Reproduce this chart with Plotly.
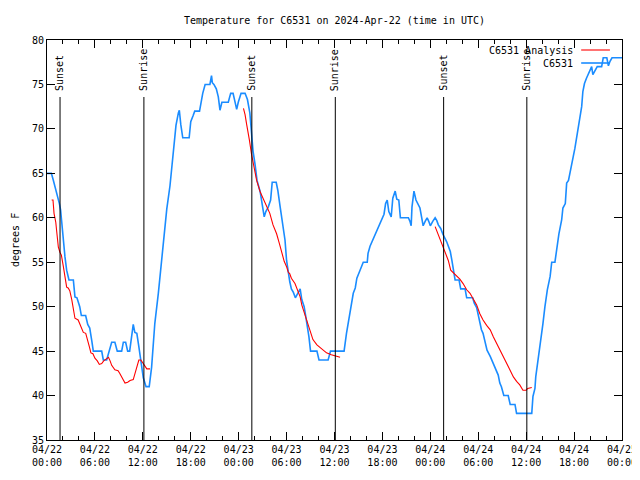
import pandas as pd
import plotly.graph_objects as go

# ---------------- data (hours since 2024-04-22 00:00 UTC, degrees F) ----------------
BASE = pd.Timestamp("2024-04-22 00:00")

obs_hours = [
    0.0, 0.55, 0.8, 1.2, 1.55, 1.7, 1.84, 2.05, 2.25, 2.46, 2.75, 3.3, 3.5, 3.75, 4.1, 4.3, 4.84,
    5.1, 5.35, 5.6, 5.8, 6.85, 7.05, 7.47, 7.8, 8.1, 8.5, 8.8, 9.35, 9.56, 9.85, 10.1, 10.35,
    10.6, 10.8, 11.0, 11.25, 11.5, 11.77, 12.06, 12.4, 12.8, 13.1, 13.5, 13.94, 14.36, 14.8,
    15.0, 15.4, 15.8, 16.15, 16.45, 16.57, 16.75, 17.0, 17.8, 18.0, 18.3, 18.5, 19.1, 19.25,
    19.5, 19.8, 20.4, 20.6, 20.7, 20.9, 21.2, 21.45, 21.66, 21.9, 22.7, 23.0, 23.3, 23.5,
    23.75, 23.95, 24.1, 24.3, 24.8, 25.1, 25.4, 25.6, 25.8, 26.05, 26.3, 26.7, 26.9, 27.2,
    27.4, 27.7, 28.0, 28.2, 28.7, 28.9, 29.2, 29.4, 29.6, 29.8, 30.0, 30.2, 30.4, 30.6, 30.85,
    31.1, 31.4, 31.7, 31.9, 32.2, 32.4, 32.6, 32.8, 33.0, 33.8, 34.06, 35.2, 35.5, 37.2, 37.5,
    37.9, 38.35, 38.6, 38.8, 39.2, 39.6, 40.1, 40.2, 40.45, 40.9, 41.2, 41.5, 42.0, 42.2, 42.4,
    42.6, 42.8, 43.1, 43.3, 43.5, 43.6, 43.8, 44.05, 44.25, 45.25, 45.45, 45.6, 45.7, 45.95,
    46.2, 46.45, 46.7, 46.9, 47.1, 47.35, 47.6, 47.8, 48.0, 48.3, 48.6, 48.8, 49.0, 49.3, 49.55,
    50.05, 50.25, 50.5, 50.7, 50.9, 51.1, 51.6, 51.8, 52.35, 52.55, 53.3, 53.5, 53.8, 54.1,
    54.4, 54.6, 54.85, 55.1, 55.5, 55.9, 56.2, 56.5, 56.7, 56.9, 57.2, 57.75, 58.0, 58.6, 58.8,
    60.7, 60.85, 61.1, 61.2, 61.5, 61.8, 62.1, 62.35, 62.65, 63.0, 63.2, 63.6, 63.8, 64.1,
    64.45, 64.6, 64.9, 65.07, 65.3, 65.5, 65.7, 65.9, 66.1, 66.3, 66.5, 66.7, 66.95, 67.1,
    67.3, 67.55, 67.8, 68.0, 68.2, 68.35, 68.6, 68.9, 69.45, 69.65, 70.1, 70.3, 70.5, 70.75, 72.0,
]
obs_temp = [
    65.0, 65.0, 64.2, 62.9, 61.6, 60.9, 59.4, 57.5, 55.6, 54.1, 53.0, 53.0, 51.1, 51.0, 50.0, 49.0, 49.0,
    48.0, 47.6, 46.2, 45.0, 45.0, 44.0, 44.0, 45.0, 46.0, 46.0, 45.0, 45.0, 46.0, 46.0, 45.0, 45.0,
    47.0, 48.0, 47.1, 47.0, 45.5, 44.0, 42.0, 41.0, 41.0, 43.2, 48.1, 51.5, 55.2, 58.6,
    61.0, 63.6, 67.2, 70.4, 71.8, 72.1, 70.5, 69.0, 69.0, 70.8, 71.5, 72.0, 72.0, 72.9,
    74.0, 75.0, 75.0, 76.0, 75.2, 75.0, 74.5, 73.6, 72.1, 73.0, 73.0, 74.0, 74.0, 73.2,
    72.2, 73.0, 73.5, 74.0, 74.0, 73.3, 71.8, 69.6, 67.5, 66.0, 64.2, 62.9, 61.6, 60.1,
    60.7, 61.2, 62.0, 64.0, 64.0, 63.1, 61.2, 60.1, 58.6, 57.5, 55.2, 53.8, 52.8, 52.0, 51.6,
    51.0, 51.5, 52.0, 50.8, 50.0, 48.9, 47.8, 46.6, 45.0, 45.0, 44.0, 44.0, 45.0, 45.0, 47.0,
    49.2, 51.5, 52.1, 53.2, 54.1, 55.0, 55.0, 56.0, 56.8, 57.7, 58.2, 58.8, 59.8, 60.4, 61.6,
    62.0, 60.7, 60.1, 62.2, 62.8, 63.0, 62.1, 62.0, 60.0, 60.0, 59.6, 59.1, 61.2, 63.0,
    62.0, 61.6, 61.1, 60.1, 59.1, 59.6, 60.0, 59.6, 59.1, 59.6, 60.0, 59.7, 59.2, 58.8, 58.2,
    57.3, 56.9, 56.2, 55.2, 54.1, 53.0, 53.0, 52.0, 52.0, 51.0, 51.0, 50.4, 49.9, 48.5,
    47.4, 47.0, 46.2, 45.1, 44.4, 43.6, 43.1, 42.3, 41.4, 41.0, 40.0, 40.0, 39.0, 39.0, 38.0,
    38.0, 39.9, 40.8, 42.1, 44.0, 46.2, 48.1, 50.0, 51.9, 53.4, 55.0, 55.0, 56.4, 58.2,
    59.8, 61.1, 61.6, 63.9, 64.2, 65.0, 66.1, 66.9, 67.8, 68.8, 69.9, 71.0, 72.5, 74.2,
    75.1, 75.7, 76.2, 76.8, 77.0, 76.1, 76.6, 77.0, 77.0, 78.0, 78.0, 77.1, 77.6, 78.0, 78.0,
]

# analysis: three night-time segments
ana1_hours = [0.58, 0.75, 0.88, 1.1, 1.2, 1.42, 1.63, 1.8, 2.05, 2.25, 2.46, 2.65, 2.85, 3.1, 3.3,
              3.5, 3.9, 4.1, 4.34, 4.55, 4.85, 5.05, 5.3, 5.5, 5.75, 6.0, 6.3, 6.55, 6.85, 7.1,
              7.5, 7.7, 7.9, 8.1, 8.5, 8.9, 9.1, 9.5, 9.77, 10.1, 10.4, 10.8, 11.0, 11.3, 11.5,
              11.75, 12.0, 12.3, 12.5, 12.9]
ana1_temp = [62.0, 62.0, 60.5, 59.5, 58.6, 56.7, 56.1, 55.8, 54.5, 53.4, 52.2, 52.1, 51.8, 50.8, 49.6,
             48.7, 48.5, 48.1, 47.6, 47.1, 47.0, 46.2, 45.5, 44.8, 44.7, 44.2, 43.9, 43.5, 43.6, 43.9,
             44.2, 44.3, 43.9, 43.4, 42.9, 42.8, 42.5, 41.9, 41.4, 41.5, 41.7, 41.8, 42.5, 43.6, 44.0,
             44.0, 43.7, 43.3, 43.0, 43.0]
ana2_hours = [24.6, 24.8, 25.0, 25.2, 25.35, 25.6, 25.9, 26.25, 26.7, 27.1, 27.5, 27.9, 28.3, 28.75,
              29.1, 29.4, 29.7, 30.0, 30.2, 30.4, 30.6, 31.05, 31.35, 31.7, 31.9, 32.2, 32.5, 32.9,
              33.3, 33.8, 34.4, 35.0, 35.6, 36.3, 36.7]
ana2_temp = [72.3, 71.6, 70.5, 69.6, 68.7, 67.2, 65.8, 64.2, 62.9, 62.1, 61.4, 60.5, 59.2, 58.2,
             57.1, 56.0, 55.1, 54.5, 53.9, 53.7, 53.2, 52.6, 51.9, 51.1, 50.2, 49.4, 48.5, 47.4,
             46.3, 45.7, 45.2, 44.8, 44.6, 44.4, 44.3]
ana3_hours = [48.6, 49.0, 49.4, 49.8, 50.25, 50.55, 50.9, 51.3, 51.7, 52.1, 52.55, 52.97, 53.4, 53.8,
              54.2, 54.6, 55.05, 55.5, 55.9, 56.3, 56.7, 57.1, 57.55, 58.0, 58.4, 58.8, 59.2, 59.6,
              60.0, 60.2, 60.7]
ana3_temp = [59.0, 58.1, 57.1, 56.2, 55.2, 54.1, 53.8, 53.4, 53.1, 52.6, 51.9, 51.5, 50.8, 50.2,
             49.2, 48.5, 47.9, 47.4, 46.6, 45.9, 45.1, 44.4, 43.6, 42.9, 42.1, 41.6, 41.2, 40.6,
             40.6, 40.8, 40.9]

event_names = ["Sunset", "Sunrise", "Sunset", "Sunrise", "Sunset", "Sunrise"]
event_times = ["2024-04-22 01:38", "2024-04-22 12:08", "2024-04-23 01:39",
               "2024-04-23 12:06", "2024-04-24 01:40", "2024-04-24 12:05"]

series_names = ["C6531 Analysis", "C6531"]
title_text = "Temperature for C6531 on 2024-Apr-22 (time in UTC)"
y_label = "degrees F"

# ---------------- build ----------------
def to_time(hours):
    return [BASE + pd.Timedelta(hours=h) for h in hours]

ana_x = to_time(ana1_hours) + [None] + to_time(ana2_hours) + [None] + to_time(ana3_hours)
ana_y = ana1_temp + [None] + ana2_temp + [None] + ana3_temp

FONT = "DejaVu Sans Mono"
RED = "#ff0000"
BLUE = "#1a8cff"

fig = go.Figure()
fig.add_trace(go.Scatter(x=to_time(obs_hours), y=obs_temp, mode="lines", name=series_names[1],
                         line=dict(color=BLUE, width=1.6), showlegend=False))
fig.add_trace(go.Scatter(x=ana_x, y=ana_y, mode="lines", name=series_names[0],
                         line=dict(color=RED, width=1.1), connectgaps=False, showlegend=False))

# sunrise / sunset markers
for name, t in zip(event_names, event_times):
    fig.add_shape(type="line", xref="x", yref="paper", x0=t, x1=t, y0=0, y1=0.8575,
                  line=dict(color="black", width=1))
    fig.add_annotation(x=t, y=0.8675, xref="x", yref="paper", text=name, textangle=-90,
                       showarrow=False, xanchor="center", yanchor="bottom",
                       font=dict(family=FONT, size=10, color="black"))

# manual gnuplot-style key (text left, sample right)
key_rows = [(0.975, series_names[0], RED), (0.9425, series_names[1], BLUE)]
for yk, label, col in key_rows:
    fig.add_annotation(x=0.918, y=yk, xref="paper", yref="paper", text=label, showarrow=False,
                       xanchor="right", yanchor="middle",
                       font=dict(family=FONT, size=10, color="black"))
    fig.add_shape(type="line", xref="paper", yref="paper", x0=0.929, x1=0.979, y0=yk, y1=yk,
                  line=dict(color=col, width=1.6 if col == BLUE else 1.1))

# y-axis label placed like gnuplot's (kept inside the page)
fig.add_annotation(x=-32 / 575, y=0.5, xref="paper", yref="paper", text=y_label, textangle=-90,
                   showarrow=False, xanchor="center", yanchor="middle",
                   font=dict(family=FONT, size=10, color="black"))

# the page body adds an 8px offset; figure sized to fit in the window
fig.update_layout(
    width=632, height=472,
    margin=dict(l=39, r=18, t=32, b=40, autoexpand=False),
    paper_bgcolor="white", plot_bgcolor="white",
    font=dict(family=FONT, size=10, color="black"),
    title=dict(text=title_text, x=0.5, xref="paper", xanchor="center",
               y=1 - 12 / 472, yref="container", yanchor="middle", automargin=False,
               font=dict(family=FONT, size=10, color="black")),
    showlegend=False,
)
fig.update_xaxes(
    type="date", automargin=False,
    range=[BASE, BASE + pd.Timedelta(hours=72)],
    tick0=BASE, dtick=6 * 3600 * 1000,
    tickformat="%m/%d<br>%H:%M",
    ticks="inside", ticklen=8, tickcolor="black", tickwidth=1,
    minor=dict(dtick=2 * 3600 * 1000, ticks="inside", ticklen=4, tickcolor="black", tickwidth=1),
    mirror="allticks", showline=True, linecolor="black", linewidth=1,
    showgrid=False, zeroline=False,
    tickfont=dict(family=FONT, size=10, color="black"),
)
fig.update_yaxes(
    range=[35, 80], tick0=35, dtick=5, automargin=False,
    ticks="inside", ticklen=8, tickcolor="black", tickwidth=1,
    mirror="allticks", showline=True, linecolor="black", linewidth=1,
    showgrid=False, zeroline=False,
    tickfont=dict(family=FONT, size=10, color="black"),
)

fig.write_html("out.html")
